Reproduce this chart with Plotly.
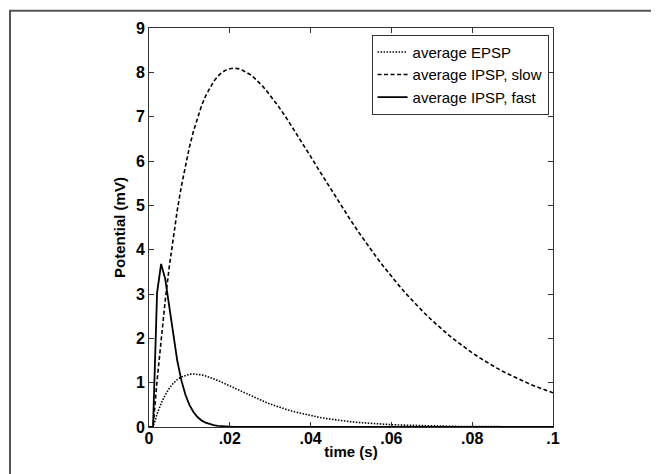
import plotly.graph_objects as go

# time in milliseconds
t_ms = list(range(0, 31)) + list(range(32, 101, 2))
t_fast_ms = list(range(0, 26)) + [100]

epsp = [0.0, 0.0,
        0.2941, 0.5322, 0.7223, 0.8714, 0.9856, 1.0702, 1.1297, 1.1683, 1.1892, 1.1956,
        1.1900, 1.1747, 1.1515, 1.1220, 1.0878, 1.0499, 1.0093, 0.9670, 0.9236, 0.8797,
        0.8358, 0.7922, 0.7494, 0.7076, 0.6669, 0.6276, 0.5897, 0.5534, 0.5186,
        0.4539, 0.3956, 0.3435, 0.2973, 0.2566, 0.2208, 0.1896, 0.1625, 0.1389, 0.1186,
        0.1011, 0.0860, 0.0731, 0.0620, 0.0525, 0.0445, 0.0376, 0.0318, 0.0268, 0.0226,
        0.0190, 0.0160, 0.0135, 0.0113, 0.0095, 0.0080, 0.0067, 0.0056, 0.0047, 0.0039,
        0.0033, 0.0028, 0.0023, 0.0019, 0.0016]

ipsp_slow = [0.0, 0.0,
             1.0464, 1.9906, 2.8403, 3.6024, 4.2834, 4.8894, 5.4261, 5.8988, 6.3125, 6.6718,
             6.9811, 7.2443, 7.4653, 7.6474, 7.7941, 7.9082, 7.9927, 8.0501, 8.0829, 8.0933,
             8.0836, 8.0555, 8.0109, 7.9515, 7.8789, 7.7944, 7.6994, 7.5952, 7.4828,
             7.2377, 6.9714, 6.6903, 6.3995, 6.1036, 5.8059, 5.5097, 5.2173, 4.9306, 4.6512,
             4.3804, 4.1190, 3.8676, 3.6268, 3.3969, 3.1778, 2.9696, 2.7723, 2.5857, 2.4095,
             2.2434, 2.0871, 1.9402, 1.8024, 1.6733, 1.5523, 1.4393, 1.3337, 1.2352, 1.1434,
             1.0578, 0.9782, 0.9041, 0.8353, 0.7713]

ipsp_fast = [0.0, 0.0,
             3.0327, 3.6788, 3.3470, 2.7067, 2.0521, 1.4936, 1.0569, 0.7326, 0.4999, 0.3369,
             0.2248, 0.1487, 0.0977, 0.0638, 0.0415, 0.0268, 0.0173, 0.0111, 0.0071, 0.0045,
             0.0029, 0.0018, 0.0011, 0.0007, 0.0]

x_tickvals = [0, 0.02, 0.04, 0.06, 0.08, 0.1]
x_ticktext = ["0", ".02", ".04", ".06", ".08", ".1"]
y_tickvals = [0, 1, 2, 3, 4, 5, 6, 7, 8, 9]

t = [v / 1000 for v in t_ms]
t_fast = [v / 1000 for v in t_fast_ms]

FONT = "Liberation Sans, Arial, sans-serif"

fig = go.Figure()
fig.add_trace(go.Scatter(x=t, y=epsp, mode="lines", name="average EPSP",
                         line=dict(color="black", width=1.6, dash="1.5px,1.5px")))
fig.add_trace(go.Scatter(x=t, y=ipsp_slow, mode="lines", name="average IPSP, slow",
                         line=dict(color="black", width=1.6, dash="4px,2.5px")))
fig.add_trace(go.Scatter(x=t_fast, y=ipsp_fast, mode="lines", name="average IPSP, fast",
                         line=dict(color="black", width=1.8)))

tick_font = dict(family=FONT, size=16, color="black", weight="bold")
title_font = dict(family=FONT, size=15, color="black")

# page body has an 8px margin; plot area in page px: x 149..553, y 24..427
fig.update_layout(
    width=659, height=474,
    margin=dict(l=141, r=114, t=16, b=55),
    paper_bgcolor="white", plot_bgcolor="white",
    showlegend=True,
    legend=dict(x=0.989, y=0.983, xanchor="right", yanchor="top",
                bgcolor="white", bordercolor="#333333", borderwidth=1,
                font=dict(family=FONT, size=15, color="black"),
                tracegroupgap=0, itemwidth=30),
    xaxis=dict(range=[0, 0.1], tickvals=x_tickvals, ticktext=x_ticktext,
               ticks="inside", ticklen=5, tickcolor="#333333",
               showline=True, linecolor="#333333", linewidth=1, mirror="ticks",
               showgrid=False, zeroline=False, tickfont=tick_font,
               ticklabelstandoff=-3,
               title=dict(text="<b>time (s)</b>", font=title_font, standoff=0)),
    yaxis=dict(range=[0, 9], tickvals=y_tickvals,
               ticks="inside", ticklen=5, tickcolor="#333333",
               showline=True, linecolor="#333333", linewidth=1, mirror="ticks",
               showgrid=False, zeroline=False, tickfont=tick_font,
               title=dict(text="<b>Potential (mV)</b>", font=title_font, standoff=6)),
    shapes=[dict(type="rect", xref="paper", yref="paper",
                 x0=(10 - 149) / 404, x1=(657 - 149) / 404,
                 y0=(427 - 490) / 403, y1=(427 - 6.5) / 403,
                 line=dict(color="#555555", width=2), fillcolor="rgba(0,0,0,0)", layer="below")],
)

fig.write_html("out.html")
